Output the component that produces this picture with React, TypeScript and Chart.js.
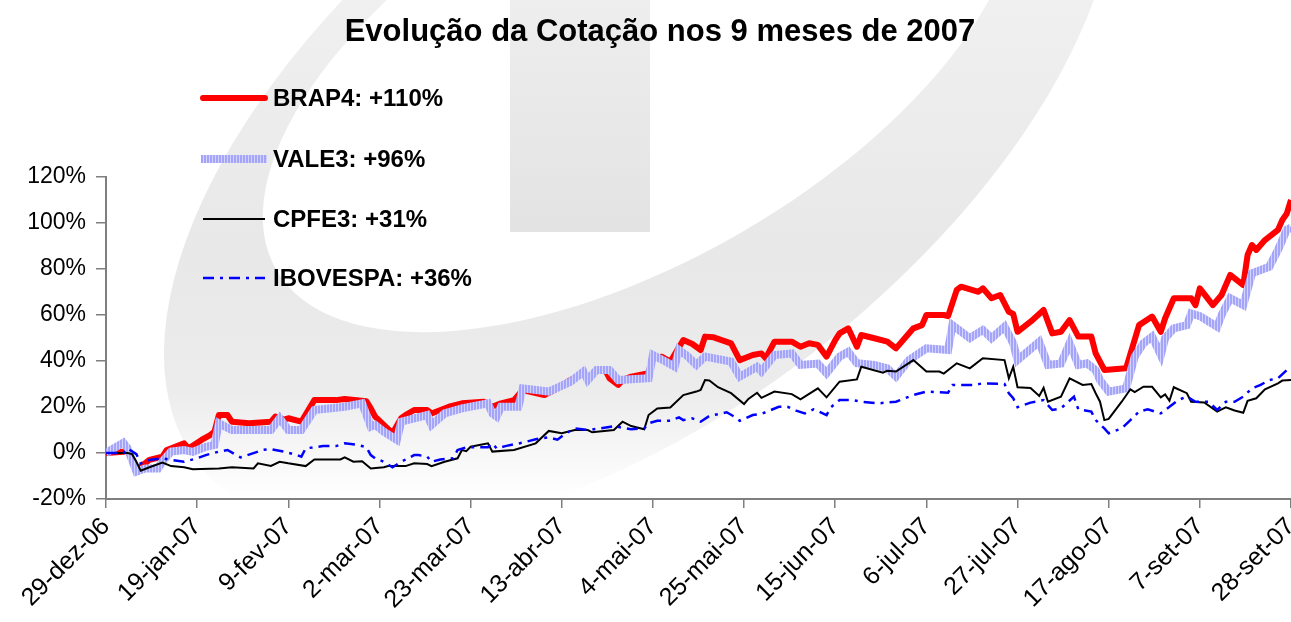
import React, { useEffect, useRef } from 'react';
import { Chart, registerables } from 'chart.js';

Chart.register(...registerables);

const FONT = '"Liberation Sans", Arial, sans-serif';

const chartTitle = 'Evolução da Cotação nos 9 meses de 2007';

// x tick labels, one every 21 calendar days starting 29-dez-06 (day 0)
const tickLabels = [
  '29-dez-06', '19-jan-07', '9-fev-07', '2-mar-07', '23-mar-07', '13-abr-07', '4-mai-07',
  '25-mai-07', '15-jun-07', '6-jul-07', '27-jul-07', '17-ago-07', '7-set-07', '28-set-07',
];
const tickStepDays = 21;
const lastDay = 273;

const seriesNames = ['BRAP4: +110%', 'VALE3: +96%', 'CPFE3: +31%', 'IBOVESPA: +36%'];

// [day since 29-dez-06, % change]
const brap4 = [
  [0, 0], [4, 0.5], [5, 1], [7, -7.4], [10, -3], [13, -1.6], [14, 1.3], [18, 4.2], [19, 2.0], [22, 5.7],
  [24, 7.8], [25, 9.3], [26, 16.5], [28, 16.5], [29, 13.6], [33, 12.9], [38, 13.6], [39, 15.8], [41, 14.5], [42, 15.1],
  [45, 13.6], [48, 23.0], [53, 23.0], [55, 23.5], [60, 22.5], [61, 19.4], [62, 15.8], [66, 8.6], [68, 15.1], [69, 16.5],
  [71, 18.7], [74, 18.7], [75, 17.2], [79, 20.1], [82, 21.6], [87, 22.3], [89, 20.1], [91, 21.6], [94, 23.0], [96, 27.4],
  [101, 25.2], [104, 28.1], [107, 31.7], [110, 34.7], [111, 32.5], [113, 36.1], [115, 36.1], [116, 32.5], [118, 29.6], [119, 31.7],
  [121, 33.2], [125, 34.7], [126, 41.2], [128, 41.9], [130, 39.7], [133, 49.1], [135, 47.5], [137, 44.8], [138, 50.6], [140, 50.3],
  [144, 47.7], [146, 40.4], [149, 42.6], [151, 43.3], [152, 41.2], [154, 48.4], [158, 48.4], [160, 46.2], [162, 47.7], [164, 47.0],
  [166, 41.9], [168, 49.1], [169, 52.0], [171, 54.2], [173, 46.2], [174, 51.3], [177, 49.9], [180, 48.4], [182, 45.5], [186, 54.2],
  [188, 55.6], [189, 60.0], [193, 60.0], [194, 59.5], [196, 70.9], [197, 72.3], [201, 70.1], [202, 71.6], [204, 67.3], [206, 68.7],
  [208, 61.4], [209, 60.5], [210, 52.7], [213, 57.1], [216, 62.2], [218, 52.0], [220, 52.7], [222, 57.8], [224, 50.6], [227, 50.6],
  [228, 43.3], [230, 36.1], [235, 36.8], [238, 55.6], [241, 59.3], [243, 52.7], [244, 58.6], [246, 67.3], [250, 67.3], [251, 64.3],
  [252, 71.6], [255, 64.3], [257, 68.7], [259, 77.4], [262, 73.0], [263, 86.1], [264, 90.4], [265, 88.3], [267, 92.6], [270, 97.0],
  [271, 101.3], [272, 104], [273, 110],
];

const vale3 = [
  [0, 0], [4, 4.5], [5, 2], [7, -8.1], [9, -6.7], [12, -6.7], [13, -3.7], [15, 0.6], [18, 1.3], [20, 0.5],
  [23, 2.7], [25, 3.5], [26, 12.9], [29, 10.0], [33, 10.0], [38, 10.0], [40, 15.1], [42, 10.0], [45, 10.0], [48, 18.7],
  [55, 20.1], [59, 21.6], [61, 11.4], [62, 12.2], [64, 9.3], [67, 5.7], [68, 13.6], [71, 15.1], [74, 16.5], [75, 12.2],
  [78, 17.2], [82, 19.4], [88, 21.6], [89, 17.2], [90, 15.8], [91, 20.1], [95, 20.1], [96, 28.1], [102, 26.7], [107, 31.0],
  [110, 35.4], [111, 31.7], [113, 36.1], [116, 36.1], [118, 31.7], [125, 32.5], [126, 42.6], [129, 39.7], [131, 37.5], [132, 44.8],
  [134, 42.0], [136, 38.3], [138, 41.9], [144, 39.7], [146, 33.2], [150, 37.5], [151, 35.4], [154, 42.6], [158, 43.3], [160, 38.3],
  [164, 38.9], [166, 34.7], [169, 41.9], [171, 44.0], [173, 39.0], [177, 38.3], [180, 36.8], [182, 33.2], [185, 40.4], [189, 45.5],
  [194, 44.8], [195, 55.6], [199, 49.9], [202, 53.5], [204, 49.9], [207, 54.9], [209, 47.7], [210, 40.4], [215, 48.4], [217, 38.3],
  [220, 38.9], [222, 47.7], [224, 38.3], [226, 39.0], [228, 36.0], [229, 31.7], [231, 26.7], [235, 28.1], [237, 41.9], [239, 47.7],
  [241, 50.6], [243, 42.6], [244, 49.9], [246, 54.2], [249, 55.6], [250, 60.7], [252, 59.5], [256, 54.9], [257, 60.0], [259, 67.3],
  [262, 64.3], [264, 78.1], [268, 81.0], [270, 88.3], [271, 92.6], [272, 97.0], [273, 98.0],
];

const cpfe3 = [
  [0, 0], [5, 0], [6, -0.5], [7, -3.8], [8, -7.7], [10, -6.2], [13, -4.2], [15, -5.7], [18, -6.2], [20, -7.1],
  [26, -6.7], [29, -6.2], [34, -6.7], [35, -4.5], [38, -5.6], [40, -3.8], [42, -4.5], [46, -5.7], [48, -2.8], [54, -2.8],
  [55, -1.9], [57, -3.8], [59, -3.6], [61, -6.7], [64, -6.2], [65, -5.7], [69, -5.7], [71, -4.5], [74, -4.8], [75, -5.7],
  [78, -3.8], [81, -2.3], [82, 1.3], [83, 0.8], [84, 2.7], [88, 4.2], [89, 0.6], [94, 1.3], [99, 4.2], [102, 9.6],
  [105, 8.6], [108, 10.0], [111, 10.0], [112, 9.0], [117, 10.0], [119, 13.6], [121, 11.7], [124, 10.3], [125, 16.5], [127, 19.4],
  [130, 19.8], [133, 25.2], [136, 26.7], [137, 27.4], [138, 31.7], [139, 31.5], [141, 28.6], [144, 26.0], [147, 21.3], [148, 23.5],
  [150, 26.2], [151, 24.0], [154, 26.7], [158, 25.6], [160, 23.3], [164, 28.1], [166, 24.2], [169, 31.0], [173, 32.0], [174, 37.5],
  [179, 34.9], [180, 35.8], [182, 35.4], [186, 40.4], [189, 35.4], [192, 35.4], [193, 34.5], [196, 39.0], [199, 36.8], [202, 41.2],
  [207, 40.4], [208, 32.5], [209, 37.5], [210, 28.6], [213, 28.3], [215, 24.8], [216, 28.3], [217, 22.3], [220, 24.5], [222, 32.5],
  [225, 29.6], [227, 30.0], [228, 26.0], [229, 22.3], [230, 14.3], [231, 14.8], [234, 22.3], [236, 27.7], [237, 26.5], [239, 28.8],
  [241, 28.8], [243, 24.2], [244, 25.5], [245, 22.7], [246, 28.6], [249, 26.0], [250, 22.3], [253, 22.0], [256, 18.0], [257, 19.0],
  [258, 19.9], [260, 18.5], [262, 17.5], [263, 22.7], [265, 23.8], [267, 27.7], [270, 30.3], [271, 31.5], [273, 31.7],
];

const ibovespa = [
  [0, 0], [4, 0], [5, 2.0], [7, -0.5], [8, -4.5], [10, -3.0], [13, -2.3], [15, -3.0], [18, -3.8], [21, -2.3],
  [23, -0.9], [26, 0.6], [28, 1.3], [30, -0.9], [31, -1.9], [35, 0.6], [36, 1.3], [38, 1.7], [41, 0.6], [43, -0.4],
  [44, -0.9], [45, -1.6], [46, 2.0], [50, 3.0], [53, 3.0], [55, 4.2], [58, 3.5], [60, 2.5], [61, -0.9], [62, -2.3],
  [64, -3.8], [66, -6.2], [68, -3.8], [71, -0.9], [72, -0.9], [74, -1.6], [75, -3.8], [77, -2.8], [80, -2.3], [81, 1.3],
  [83, 2.5], [88, 2.5], [89, 4.2], [90, 2.0], [92, 3.0], [96, 4.5], [99, 6.0], [102, 6.8], [104, 5.8], [106, 8.6],
  [108, 10.7], [111, 10.0], [114, 10.7], [117, 11.7], [121, 10.3], [124, 10.7], [125, 12.9], [127, 14.0], [130, 14.0], [132, 15.5],
  [133, 14.3], [135, 15.1], [137, 13.6], [139, 16.1], [143, 17.7], [145, 15.5], [146, 14.0], [149, 16.5], [151, 17.0], [155, 20.1],
  [157, 20.1], [159, 18.4], [161, 17.2], [163, 19.0], [166, 16.5], [167, 19.9], [169, 23.0], [172, 23.0], [174, 22.3], [178, 21.6],
  [182, 22.3], [186, 25.2], [189, 26.7], [194, 26.2], [195, 29.6], [200, 29.6], [202, 30.3], [207, 30.0], [208, 26.0], [209, 23.8],
  [210, 19.9], [213, 21.9], [216, 23.0], [218, 18.7], [220, 19.4], [223, 24.5], [224, 19.0], [227, 18.0], [228, 14.3], [230, 10.7],
  [231, 8.6], [234, 10.7], [236, 14.3], [238, 18.0], [240, 19.0], [243, 17.2], [247, 23.0], [249, 24.5], [251, 22.3], [254, 22.3],
  [256, 18.7], [258, 22.3], [260, 22.3], [262, 24.5], [264, 28.1], [266, 29.6], [268, 31.7], [270, 32.5], [272, 36.0], [273, 36.8],
];

const toPoints = (pairs: number[][]) => pairs.map(([x, y]) => ({ x, y }));

function makeStripePattern(): CanvasPattern | string {
  const c = document.createElement('canvas');
  c.width = 3;
  c.height = 3;
  const p = c.getContext('2d');
  if (!p) return '#aaaaff';
  p.fillStyle = '#a4a4f8';
  p.fillRect(0, 0, 3, 3);
  p.fillStyle = '#d2d2ff';
  p.fillRect(2, 0, 1, 3);
  const pat = p.createPattern(c, 'repeat');
  return pat || '#aaaaff';
}

export default function App() {
  const canvasRef = useRef<HTMLCanvasElement | null>(null);

  useEffect(() => {
    const canvas = canvasRef.current;
    if (!canvas) return;
    const stripe = makeStripePattern();

    const backdrop = {
      id: 'backdrop',
      beforeDraw(chart: any) {
        const ctx = chart.ctx;
        const w = chart.width;
        const h = chart.height;
        ctx.save();
        ctx.fillStyle = '#ffffff';
        ctx.fillRect(0, 0, w, h);
        // faint watermark logo (ring + stem)
        const g = ctx.createLinearGradient(0, 0, 0, 500);
        g.addColorStop(0, '#f0f0f0');
        g.addColorStop(0.5, '#e8e8e8');
        g.addColorStop(0.78, '#ececec');
        g.addColorStop(1, '#ffffff');
        ctx.fillStyle = g;
        ctx.beginPath();
        ctx.ellipse(640, 120, 560, 290, (-38 * Math.PI) / 180, 0, Math.PI * 2);
        ctx.ellipse(640, 60, 420, 200, (-30 * Math.PI) / 180, 0, Math.PI * 2);
        ctx.fill('evenodd');
        const gs = ctx.createLinearGradient(0, 0, 0, 232);
        gs.addColorStop(0, '#eeeeee');
        gs.addColorStop(1, '#e3e3e3');
        ctx.fillStyle = gs;
        ctx.fillRect(510, 0, 140, 232);
        ctx.restore();
      },
      afterDraw(chart: any) {
        const ctx = chart.ctx;
        ctx.save();
        // title
        ctx.fillStyle = '#000';
        ctx.font = `bold 31px ${FONT}`;
        ctx.textAlign = 'center';
        ctx.textBaseline = 'alphabetic';
        ctx.fillText(chartTitle, 660, 41);
        // legend
        const ys = [98, 159, 219, 278];
        const x0 = 201;
        const x1 = 267;
        // BRAP4
        ctx.strokeStyle = '#ff0000';
        ctx.lineWidth = 6;
        ctx.lineCap = 'round';
        ctx.beginPath();
        ctx.moveTo(x0 + 2, ys[0]);
        ctx.lineTo(x1 - 2, ys[0]);
        ctx.stroke();
        ctx.lineCap = 'butt';
        // VALE3
        ctx.strokeStyle = stripe;
        ctx.lineWidth = 8;
        ctx.beginPath();
        ctx.moveTo(x0, ys[1]);
        ctx.lineTo(x1, ys[1]);
        ctx.stroke();
        // CPFE3
        ctx.strokeStyle = '#000000';
        ctx.lineWidth = 2;
        ctx.beginPath();
        ctx.moveTo(x0 + 2, ys[2]);
        ctx.lineTo(x1 - 2, ys[2]);
        ctx.stroke();
        // IBOVESPA
        ctx.strokeStyle = '#0000ff';
        ctx.lineWidth = 2.5;
        ctx.setLineDash([11, 6, 3, 6]);
        ctx.beginPath();
        ctx.moveTo(x0 + 2, ys[3]);
        ctx.lineTo(x1 - 2, ys[3]);
        ctx.stroke();
        ctx.setLineDash([]);
        ctx.fillStyle = '#000';
        ctx.font = `bold 24px ${FONT}`;
        ctx.textAlign = 'left';
        ctx.textBaseline = 'middle';
        seriesNames.forEach((name, i) => ctx.fillText(name, 273, ys[i] + 1));
        ctx.restore();
      },
    };

    const chart = new Chart(canvas, {
      type: 'line',
      data: {
        datasets: [
          {
            label: seriesNames[0],
            data: toPoints(brap4),
            borderColor: '#ff0000',
            borderWidth: 6,
            borderJoinStyle: 'round',
            pointRadius: 0,
            tension: 0,
            order: 4,
          },
          {
            label: seriesNames[1],
            data: toPoints(vale3),
            borderColor: stripe as any,
            borderWidth: 8,
            pointRadius: 0,
            tension: 0,
            order: 3,
          },
          {
            label: seriesNames[2],
            data: toPoints(cpfe3),
            borderColor: '#000000',
            borderWidth: 2,
            pointRadius: 0,
            tension: 0,
            order: 2,
          },
          {
            label: seriesNames[3],
            data: toPoints(ibovespa),
            borderColor: '#0000ff',
            borderWidth: 2.5,
            borderDash: [11, 6, 3, 6],
            pointRadius: 0,
            tension: 0,
            order: 1,
          },
        ],
      },
      options: {
        animation: false,
        responsive: true,
        maintainAspectRatio: false,
        layout: { padding: { top: 177, right: 0, left: 0, bottom: 0 } },
        plugins: {
          legend: { display: false },
          title: { display: false },
          tooltip: { enabled: false },
        },
        scales: {
          x: {
            type: 'linear',
            min: 0,
            max: lastDay,
            ticks: {
              stepSize: tickStepDays,
              autoSkip: false,
              maxRotation: 45,
              minRotation: 45,
              color: '#000',
              padding: 4,
              font: { family: FONT, size: 25 },
              callback: (v: any) => tickLabels[Math.round(Number(v) / tickStepDays)] ?? '',
            },
            grid: { drawOnChartArea: false, drawTicks: true, tickLength: 9, color: '#7f7f7f', lineWidth: 1.5 },
            border: { color: '#7f7f7f', width: 2 },
            afterFit: (s: any) => {
              s.height = 123;
              s.paddingLeft = 0;
              s.paddingRight = 0;
            },
          },
          y: {
            min: -20,
            max: 120,
            ticks: {
              stepSize: 20,
              color: '#000',
              padding: 10,
              font: { family: FONT, size: 23 },
              callback: (v: any) => `${v}%`,
            },
            grid: { drawOnChartArea: false, drawTicks: true, tickLength: 10, color: '#7f7f7f', lineWidth: 1.5 },
            border: { color: '#7f7f7f', width: 2 },
            afterFit: (s: any) => {
              s.width = 106;
              s.paddingTop = 0;
              s.paddingBottom = 0;
            },
          },
        },
      },
      plugins: [backdrop],
    });

    return () => chart.destroy();
  }, []);

  return (
    <div style={{ position: 'absolute', left: 0, top: 0, width: 1291, height: 622, background: '#fff' }}>
      <canvas ref={canvasRef} />
    </div>
  );
}
